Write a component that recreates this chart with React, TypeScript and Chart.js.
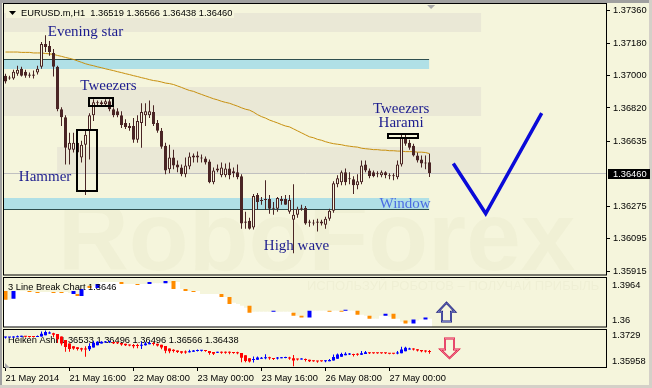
import React, { useEffect, useRef } from 'react';
import { Chart, registerables } from 'chart.js';

Chart.register(...registerables);

// ---------------- data ----------------
const candleOpen = [
  1.36999, 1.36988, 1.36983, 1.37010, 1.37037, 1.37021, 1.37005, 1.37005, 1.37016, 1.37048,
  1.37174, 1.37163, 1.37125, 1.37048, 1.36813, 1.36769, 1.36589, 1.36589, 1.36627, 1.36545,
  1.36616, 1.36698, 1.36780, 1.36846, 1.36840, 1.36840, 1.36857, 1.36813, 1.36802, 1.36780,
  1.36737, 1.36720, 1.36720, 1.36644, 1.36737, 1.36780, 1.36780, 1.36797, 1.36737, 1.36693,
  1.36611, 1.36480, 1.36545, 1.36507, 1.36490, 1.36452, 1.36496, 1.36545, 1.36556, 1.36545,
  1.36540, 1.36523, 1.36408, 1.36474, 1.36447, 1.36447, 1.36485, 1.36469, 1.36463, 1.36441,
  1.36184, 1.36195, 1.36157, 1.36337, 1.36310, 1.36310, 1.36315, 1.36266, 1.36261, 1.36315,
  1.36315, 1.36244, 1.36200, 1.36228, 1.36266, 1.36266, 1.36190, 1.36184, 1.36190, 1.36179,
  1.36173, 1.36206, 1.36250, 1.36397, 1.36408, 1.36463, 1.36425, 1.36425, 1.36392, 1.36408,
  1.36507, 1.36474, 1.36463, 1.36458, 1.36447, 1.36463, 1.36447, 1.36447, 1.36436, 1.36507,
  1.36655, 1.36627, 1.36611, 1.36556, 1.36534, 1.36518, 1.36519,
];
const candleHigh = [
  1.37010, 1.36999, 1.37032, 1.37054, 1.37048, 1.37032, 1.37016, 1.37027, 1.37054, 1.37185,
  1.37223, 1.37191, 1.37147, 1.37054, 1.36824, 1.36780, 1.36682, 1.36682, 1.36655, 1.36638,
  1.36693, 1.36791, 1.36868, 1.36862, 1.36862, 1.36868, 1.36868, 1.36824, 1.36819, 1.36802,
  1.36758, 1.36737, 1.36764, 1.36780, 1.36846, 1.36846, 1.36862, 1.36835, 1.36753, 1.36709,
  1.36627, 1.36616, 1.36589, 1.36529, 1.36507, 1.36545, 1.36573, 1.36567, 1.36578, 1.36562,
  1.36551, 1.36534, 1.36490, 1.36507, 1.36518, 1.36512, 1.36518, 1.36490, 1.36507, 1.36452,
  1.36244, 1.36211, 1.36343, 1.36348, 1.36326, 1.36419, 1.36337, 1.36299, 1.36326, 1.36332,
  1.36337, 1.36337, 1.36397, 1.36272, 1.36283, 1.36277, 1.36200, 1.36200, 1.36206, 1.36200,
  1.36217, 1.36261, 1.36414, 1.36447, 1.36474, 1.36485, 1.36463, 1.36441, 1.36452, 1.36529,
  1.36529, 1.36485, 1.36474, 1.36469, 1.36474, 1.36469, 1.36458, 1.36458, 1.36529, 1.36671,
  1.36671, 1.36644, 1.36622, 1.36573, 1.36556, 1.36556, 1.36566,
];
const candleLow = [
  1.36955, 1.36977, 1.36977, 1.36999, 1.36994, 1.36988, 1.36988, 1.36983, 1.37005, 1.37037,
  1.37130, 1.37109, 1.36994, 1.36802, 1.36720, 1.36507, 1.36507, 1.36573, 1.36545, 1.36518,
  1.36337, 1.36534, 1.36748, 1.36830, 1.36830, 1.36830, 1.36802, 1.36769, 1.36769, 1.36709,
  1.36704, 1.36693, 1.36627, 1.36627, 1.36600, 1.36720, 1.36764, 1.36720, 1.36682, 1.36594,
  1.36452, 1.36458, 1.36480, 1.36463, 1.36441, 1.36436, 1.36480, 1.36518, 1.36518, 1.36518,
  1.36507, 1.36403, 1.36397, 1.36463, 1.36436, 1.36436, 1.36425, 1.36436, 1.36425, 1.36151,
  1.36151, 1.36146, 1.36146, 1.36255, 1.36283, 1.36255, 1.36233, 1.36228, 1.36244, 1.36283,
  1.36283, 1.36233, 1.36015, 1.36211, 1.36250, 1.36173, 1.36162, 1.36168, 1.36135, 1.36168,
  1.36151, 1.36195, 1.36239, 1.36381, 1.36392, 1.36392, 1.36397, 1.36343, 1.36370, 1.36397,
  1.36463, 1.36430, 1.36436, 1.36436, 1.36436, 1.36430, 1.36425, 1.36419, 1.36425, 1.36496,
  1.36611, 1.36589, 1.36551, 1.36518, 1.36490, 1.36480, 1.36438,
];
const candleClose = [
  1.36966, 1.36983, 1.37021, 1.37032, 1.36999, 1.36999, 1.36999, 1.36999, 1.37037, 1.37174,
  1.37158, 1.37130, 1.37048, 1.36813, 1.36769, 1.36600, 1.36627, 1.36627, 1.36573, 1.36616,
  1.36671, 1.36780, 1.36851, 1.36851, 1.36851, 1.36857, 1.36813, 1.36780, 1.36780, 1.36726,
  1.36715, 1.36709, 1.36644, 1.36748, 1.36797, 1.36802, 1.36802, 1.36731, 1.36693, 1.36605,
  1.36474, 1.36545, 1.36501, 1.36490, 1.36452, 1.36501, 1.36551, 1.36556, 1.36545, 1.36540,
  1.36518, 1.36408, 1.36474, 1.36485, 1.36490, 1.36485, 1.36447, 1.36458, 1.36436, 1.36179,
  1.36190, 1.36151, 1.36332, 1.36299, 1.36304, 1.36315, 1.36261, 1.36261, 1.36321, 1.36304,
  1.36283, 1.36310, 1.36228, 1.36261, 1.36261, 1.36179, 1.36184, 1.36179, 1.36184, 1.36190,
  1.36206, 1.36250, 1.36403, 1.36430, 1.36463, 1.36408, 1.36430, 1.36392, 1.36414, 1.36501,
  1.36474, 1.36441, 1.36441, 1.36452, 1.36463, 1.36447, 1.36441, 1.36441, 1.36507, 1.36655,
  1.36622, 1.36600, 1.36556, 1.36529, 1.36512, 1.36512, 1.36460,
];
const maValues = [
  1.37130, 1.37130, 1.37130, 1.37130, 1.37128, 1.37128, 1.37128, 1.37125, 1.37125, 1.37125,
  1.37122, 1.37120, 1.37117, 1.37111, 1.37106, 1.37100, 1.37095, 1.37089, 1.37081, 1.37073,
  1.37065, 1.37059, 1.37054, 1.37048, 1.37043, 1.37037, 1.37032, 1.37027, 1.37021, 1.37016,
  1.37010, 1.37005, 1.36999, 1.36994, 1.36988, 1.36983, 1.36977, 1.36972, 1.36969, 1.36964,
  1.36958, 1.36955, 1.36950, 1.36942, 1.36934, 1.36925, 1.36917, 1.36912, 1.36903, 1.36895,
  1.36887, 1.36879, 1.36871, 1.36865, 1.36857, 1.36851, 1.36846, 1.36838, 1.36830, 1.36821,
  1.36813, 1.36808, 1.36797, 1.36783, 1.36772, 1.36764, 1.36753, 1.36745, 1.36737, 1.36728,
  1.36720, 1.36715, 1.36704, 1.36693, 1.36682, 1.36671, 1.36660, 1.36655, 1.36646, 1.36641,
  1.36633, 1.36627, 1.36622, 1.36619, 1.36616, 1.36611, 1.36608, 1.36605, 1.36603, 1.36597,
  1.36594, 1.36592, 1.36589, 1.36589, 1.36586, 1.36586, 1.36583, 1.36583, 1.36581, 1.36581,
  1.36578, 1.36578, 1.36578, 1.36575, 1.36575, 1.36573, 1.36567,
];
// 3 Line Break panel
const lineBreakLevels = [
  1.3797, 1.3797, 1.3804, 1.3862, 1.3862, 1.3862, 1.3862, 1.3855, 1.3855, 1.3855,
  1.3855, 1.3855, 1.3855, 1.3855, 1.3855, 1.3855, 1.3848, 1.3840, 1.3826, 1.3877,
  1.3884, 1.3891, 1.3898, 1.3913, 1.3928, 1.3928, 1.3928, 1.3928, 1.3928, 1.3928,
  1.3913, 1.3913, 1.3913, 1.3913, 1.3913, 1.3913, 1.3920, 1.3920, 1.3920, 1.3920,
  1.3920, 1.3920, 1.3920, 1.3928, 1.3877, 1.3862, 1.3862, 1.3862, 1.3862, 1.3840,
  1.3840, 1.3840, 1.3840, 1.3840, 1.3840, 1.3818, 1.3797, 1.3775, 1.3767, 1.3753,
  1.3738, 1.3724, 1.3709, 1.3709, 1.3709, 1.3709, 1.3709, 1.3709, 1.3709, 1.3709,
  1.3709, 1.3709, 1.3695, 1.3680, 1.3666, 1.3666, 1.3709, 1.3716, 1.3716, 1.3716,
  1.3716, 1.3716, 1.3716, 1.3716, 1.3716, 1.3716, 1.3716, 1.3716, 1.3695, 1.3687,
  1.3680, 1.3666, 1.3658, 1.3658, 1.3680, 1.3680, 1.3673, 1.3658, 1.3658, 1.3636,
  1.3622, 1.3629, 1.3636, 1.3644, 1.3651, 1.3658, 1.3658,
];
const brickIndex = [0, 2, 6, 8, 12, 14, 17, 18, 19, 21, 23, 29, 33, 36, 40, 42, 45, 47, 54, 56, 61, 67, 72, 74, 76, 81, 84, 85, 88, 91, 95, 97, 100, 102, 105];
const brickLow = [1.3797, 1.3804, 1.3855, 1.3848, 1.3848, 1.3848, 1.3840, 1.3826, 1.3826, 1.3884, 1.3884, 1.3913, 1.3906, 1.3913, 1.3920, 1.3877, 1.3862, 1.3855, 1.3818, 1.3767, 1.3702, 1.3709, 1.3680, 1.3666, 1.3666, 1.3709, 1.3709, 1.3716, 1.3687, 1.3658, 1.3680, 1.3658, 1.3622, 1.3622, 1.3651];
const brickHigh = [1.3862, 1.3862, 1.3862, 1.3855, 1.3855, 1.3855, 1.3862, 1.3840, 1.3877, 1.3898, 1.3913, 1.3928, 1.3913, 1.3928, 1.3935, 1.3935, 1.3877, 1.3862, 1.3840, 1.3818, 1.3753, 1.3716, 1.3702, 1.3680, 1.3716, 1.3716, 1.3716, 1.3724, 1.3716, 1.3680, 1.3695, 1.3695, 1.3644, 1.3651, 1.3666];
const brickUp = [false, true, false, false, false, false, true, false, true, false, true, false, false, true, true, false, false, false, false, false, false, true, false, false, true, false, false, true, false, false, true, false, false, true, true];

// hand-drawn check mark (bar index, price)
const checkIndex = [111.95, 120.05, 134.05];
const checkPrice = [1.36512, 1.36235, 1.36791];

const xTickIndex = [0, 16, 32, 48, 64, 80, 96];
const xTickLabels = ['21 May 2014', '21 May 16:00', '22 May 08:00', '23 May 00:00', '23 May 16:00', '26 May 08:00', '27 May 00:00'];
const yTickValues = [1.3736, 1.3718, 1.37, 1.3682, 1.36635, 1.36275, 1.36095, 1.35915];
const lastPrice = 1.3646;
const lbAxisLabels = ['1.3964', '1.36'];
const haAxisLabels = ['1.3729', '1.35958'];

// ---------------- style / layout ----------------
const BG = '#F5F5DC';
const SHADE = '#EAE8D6';
const CANDLE = '#4A2525';
const NAVY = '#1C1C8E';
const UI_FONT = '"Liberation Sans", Arial, sans-serif';
const NOTE_FONT = '15px "Liberation Serif", "Times New Roman", serif';

const X_MIN = -0.375;
const X_MAX = 150.375;
const MAIN_MIN = 1.358876;
const MAIN_MAX = 1.373709;
const LB_MIN = 1.359272;
const LB_MAX = 1.397128;
const HA_MIN = 1.35958;
const HA_MAX = 1.373233;

const shadeBands = [
  { from: X_MIN, to: 118.9, hi: 1.37349, lo: 1.3724 },
  { from: X_MIN, to: 118.9, hi: 1.36934, lo: 1.36775 },
  { from: 12.9, to: 118.9, hi: 1.36605, lo: 1.36452 },
];
const zones = [
  { from: X_MIN, to: 105.9, hi: 1.37087, lo: 1.37037, line: 1.37092 },
  { from: X_MIN, to: 105.9, hi: 1.36321, lo: 1.36261, line: 1.36258 },
];
const notes = [
  { text: 'Evening star', i: 20.0, p: 1.37218, color: NAVY },
  { text: 'Tweezers', i: 25.75, p: 1.36917, color: NAVY },
  { text: 'Hammer', i: 9.9, p: 1.36414, color: NAVY },
  { text: 'High wave', i: 72.75, p: 1.36031, color: NAVY },
  { text: 'Tweezers', i: 98.9, p: 1.36791, color: NAVY },
  { text: 'Harami', i: 98.9, p: 1.36712, color: NAVY },
  { text: 'Window', i: 99.9, p: 1.36266, color: '#4A6CE2' },
];
const boxes = [
  { from: 17.9, to: 22.9, hi: 1.36698, lo: 1.36359 },
  { from: 20.75, to: 26.9, hi: 1.36873, lo: 1.3683 },
  { from: 95.6, to: 103.1, hi: 1.36677, lo: 1.36655 },
];
const upSignal = { i: 110, top: 1.3775, bottom: 1.3637 };
const downSignal = { i: 110.85, top: 1.36957, bottom: 1.36291 };

const decoPlugin = {
  id: 'mt4deco',
  beforeDraw(chart: any) {
    const { ctx } = chart;
    const sx = chart.scales.x, sy = chart.scales.y, s3 = chart.scales.y3;
    ctx.save();
    ctx.fillStyle = BG;
    ctx.fillRect(0, 0, chart.width, chart.height);
    ctx.fillStyle = SHADE;
    for (const b of shadeBands) {
      const x0 = sx.getPixelForValue(b.from), x1 = sx.getPixelForValue(b.to);
      const y0 = sy.getPixelForValue(b.hi), y1 = sy.getPixelForValue(b.lo);
      ctx.fillRect(x0, Math.round(y0), x1 - x0, Math.round(y1) - Math.round(y0));
    }
    // watermark
    ctx.save();
    ctx.beginPath();
    ctx.rect(sx.left, sy.top, sx.right - sx.left, sy.bottom - sy.top);
    ctx.clip();
    ctx.font = 'bold 98px ' + UI_FONT;
    ctx.fillStyle = 'rgba(150,150,100,0.05)';
    ctx.textBaseline = 'alphabetic';
    ctx.fillText('RoboForex', 58, 270);
    ctx.restore();
    ctx.save();
    ctx.font = '13px ' + UI_FONT;
    ctx.fillStyle = 'rgba(150,150,100,0.06)';
    ctx.fillText('ИСПОЛЬЗУЙ РОБОТОВ – ПОЛУЧАЙ ПРИБЫЛЬ', 307, s3.top + 14);
    ctx.restore();
    ctx.restore();
  },
  beforeDatasetsDraw(chart: any) {
    const { ctx } = chart;
    const sx = chart.scales.x, sy = chart.scales.y, sh = chart.scales.yha;
    ctx.save();
    for (const z of zones) {
      const x0 = sx.getPixelForValue(z.from), x1 = sx.getPixelForValue(z.to);
      const y0 = Math.round(sy.getPixelForValue(z.hi)), y1 = Math.round(sy.getPixelForValue(z.lo));
      ctx.fillStyle = '#B0E0E6';
      ctx.fillRect(x0, y0, x1 - x0, y1 - y0);
      const ly = Math.round(sy.getPixelForValue(z.line)) + 0.5;
      ctx.strokeStyle = '#2F4F4F';
      ctx.lineWidth = 1;
      ctx.beginPath();
      ctx.moveTo(x0, ly);
      ctx.lineTo(x1, ly);
      ctx.stroke();
    }
    const py = Math.round(sy.getPixelForValue(lastPrice)) + 0.5;
    ctx.strokeStyle = '#C0C0C0';
    ctx.beginPath();
    ctx.moveTo(sx.left, py);
    ctx.lineTo(sx.right, py);
    ctx.stroke();
    // Heiken Ashi caption (its bars are drawn over it)
    ctx.fillStyle = '#000';
    ctx.font = '9.3px ' + UI_FONT;
    ctx.textBaseline = 'alphabetic';
    ctx.textAlign = 'left';
    ctx.fillText('Heiken Ashi 1.36533 1.36496 1.36496 1.36566 1.36438', 8, sh.top + 15);
    ctx.restore();
  },
  afterDatasetsDraw(chart: any) {
    const { ctx } = chart;
    const sx = chart.scales.x, sy = chart.scales.y, s3 = chart.scales.y3, sh = chart.scales.yha;
    ctx.save();
    // 3LB caption
    ctx.fillStyle = '#000';
    ctx.font = '9.3px ' + UI_FONT;
    ctx.textBaseline = 'alphabetic';
    ctx.textAlign = 'left';
    ctx.fillText('3 Line Break Chart 1.3646', 8, s3.top + 14);
    // boxes
    ctx.strokeStyle = '#000';
    ctx.lineWidth = 2;
    for (const b of boxes) {
      const x0 = Math.round(sx.getPixelForValue(b.from)), x1 = Math.round(sx.getPixelForValue(b.to));
      const y0 = Math.round(sy.getPixelForValue(b.hi)), y1 = Math.round(sy.getPixelForValue(b.lo));
      ctx.strokeRect(x0, y0, x1 - x0, y1 - y0);
    }
    // pattern notes
    ctx.font = NOTE_FONT;
    ctx.textAlign = 'center';
    ctx.textBaseline = 'alphabetic';
    for (const n of notes) {
      ctx.fillStyle = n.color;
      ctx.fillText(n.text, sx.getPixelForValue(n.i), sy.getPixelForValue(n.p));
    }
    // signal arrows
    const ux = Math.round(sx.getPixelForValue(upSignal.i)) + 0.5;
    const ut = s3.getPixelForValue(upSignal.top), ub = s3.getPixelForValue(upSignal.bottom);
    ctx.beginPath();
    ctx.moveTo(ux, ut);
    ctx.lineTo(ux + 8.5, ut + 9);
    ctx.lineTo(ux + 4.5, ut + 9);
    ctx.lineTo(ux + 4.5, ub);
    ctx.lineTo(ux - 4.5, ub);
    ctx.lineTo(ux - 4.5, ut + 9);
    ctx.lineTo(ux - 8.5, ut + 9);
    ctx.closePath();
    ctx.lineWidth = 2;
    ctx.strokeStyle = '#1A1A78';
    ctx.stroke();
    ctx.lineWidth = 0.8;
    ctx.strokeStyle = '#8C96D8';
    ctx.stroke();
    const dx = Math.round(sx.getPixelForValue(downSignal.i)) + 0.5;
    const dt = sh.getPixelForValue(downSignal.top), db = sh.getPixelForValue(downSignal.bottom);
    ctx.beginPath();
    ctx.moveTo(dx - 4.5, dt);
    ctx.lineTo(dx + 4.5, dt);
    ctx.lineTo(dx + 4.5, dt + 11);
    ctx.lineTo(dx + 9, dt + 11);
    ctx.lineTo(dx, db);
    ctx.lineTo(dx - 9, dt + 11);
    ctx.lineTo(dx - 4.5, dt + 11);
    ctx.closePath();
    ctx.lineWidth = 2;
    ctx.strokeStyle = '#E0103C';
    ctx.stroke();
    ctx.lineWidth = 0.8;
    ctx.strokeStyle = '#F4A0B4';
    ctx.stroke();
    ctx.restore();
  },
  afterDraw(chart: any) {
    const { ctx } = chart;
    const sx = chart.scales.x, sy = chart.scales.y, s3 = chart.scales.y3, sh = chart.scales.yha;
    const W = chart.width, H = chart.height;
    ctx.save();
    // window edges
    ctx.fillStyle = '#A0A0A0';
    ctx.fillRect(0, 0, W, 3);
    ctx.fillRect(0, 0, 2, H);
    ctx.fillStyle = '#D4D0C8';
    ctx.fillRect(0, H - 3, W, 3);
    ctx.fillRect(W - 3, 0, 3, H);
    // panel frames
    ctx.strokeStyle = '#000';
    ctx.lineWidth = 1;
    const L = 3.5, R = Math.round(sx.right) - 0.5;
    ctx.strokeRect(L, 3.5, R - L, Math.round(sy.bottom) - 1 - 3.5);
    ctx.strokeRect(L, Math.round(s3.top) + 1.5, R - L, Math.round(s3.bottom) - 1 - (Math.round(s3.top) + 1.5));
    ctx.strokeRect(L, Math.round(sh.top) + 1.5, R - L, Math.round(sh.bottom) - 0.5 - (Math.round(sh.top) + 1.5));
    // header
    ctx.fillStyle = BG;
    ctx.fillRect(6, 8, 228, 10);
    ctx.fillStyle = '#000';
    ctx.beginPath();
    ctx.moveTo(9, 11);
    ctx.lineTo(16, 11);
    ctx.lineTo(12.5, 15);
    ctx.closePath();
    ctx.fill();
    ctx.font = '9.3px ' + UI_FONT;
    ctx.textAlign = 'left';
    ctx.textBaseline = 'alphabetic';
    ctx.fillText('EURUSD.m,H1  1.36519 1.36566 1.36438 1.36460', 21, 16);
    // shift marker & corner marker
    ctx.fillStyle = '#A8A8A8';
    const mx = sx.getPixelForValue(106.4);
    ctx.beginPath();
    ctx.moveTo(mx - 4, 5);
    ctx.lineTo(mx + 4, 5);
    ctx.lineTo(mx, 9);
    ctx.closePath();
    ctx.fill();
    ctx.beginPath();
    ctx.moveTo(sx.left + 1, sh.bottom - 5);
    ctx.lineTo(sx.left + 1, sh.bottom);
    ctx.lineTo(sx.left + 6, sh.bottom);
    ctx.closePath();
    ctx.fill();
    // sub-window axis labels (max at top, min at bottom)
    ctx.fillStyle = '#000';
    ctx.textBaseline = 'middle';
    ctx.fillText(lbAxisLabels[0], 612, s3.top + 9);
    ctx.fillText(lbAxisLabels[1], 612, s3.bottom - 7);
    ctx.fillText(haAxisLabels[0], 612, sh.top + 8);
    ctx.fillText(haAxisLabels[1], 612, sh.bottom - 7);
    // current price label
    const py = Math.round(sy.getPixelForValue(lastPrice));
    ctx.fillStyle = '#000';
    ctx.fillRect(608, py - 4, 42, 10);
    ctx.fillStyle = '#FFF';
    ctx.fillText(lastPrice.toFixed(5), 613, py + 1);
    ctx.restore();
  },
};

export default function App() {
  const ref = useRef<HTMLCanvasElement>(null);
  useEffect(() => {
    document.body.style.margin = '0';
    const canvas = ref.current as HTMLCanvasElement;
    const n = candleOpen.length;
    const idx = candleOpen.map((_, i) => i);

    // Heiken Ashi from the candles
    const haOpen: number[] = [], haClose: number[] = [], haHigh: number[] = [], haLow: number[] = [];
    for (let i = 0; i < n; i++) {
      const c = (candleOpen[i] + candleHigh[i] + candleLow[i] + candleClose[i]) / 4;
      const o = i === 0 ? (candleOpen[0] + candleClose[0]) / 2 : (haOpen[i - 1] + haClose[i - 1]) / 2;
      haOpen.push(o);
      haClose.push(c);
      haHigh.push(Math.max(candleHigh[i], o, c));
      haLow.push(Math.min(candleLow[i], o, c));
    }
    const haColor = idx.map((i) => (haClose[i] >= haOpen[i] ? '#0000FF' : '#FF0000'));

    const sideAxis = (weight: number, min: number, max: number, extra: any = {}) => ({
      type: 'linear',
      position: 'right',
      stack: 'panes',
      stackWeight: weight,
      min,
      max,
      beginAtZero: false,
      border: { display: false },
      grid: { display: false },
      ticks: { display: false },
      afterFit: (s: any) => { s.width = 45; },
      ...extra,
    });

    const chart = new Chart(canvas, {
      type: 'bar',
      data: {
        datasets: [
          {
            type: 'line',
            label: 'check',
            data: checkIndex.map((v, k) => ({ x: v, y: checkPrice[k] })),
            yAxisID: 'y',
            borderColor: '#0A0AD8',
            borderWidth: 3.5,
            pointRadius: 0,
            borderJoinStyle: 'miter',
            order: 0,
          },
          {
            label: 'body',
            data: idx.map((i) => ({ x: i, y: [candleOpen[i], candleClose[i]] })),
            yAxisID: 'y',
            backgroundColor: idx.map((i) => (candleClose[i] > candleOpen[i] ? BG : CANDLE)),
            borderColor: CANDLE,
            borderWidth: 1,
            borderSkipped: false,
            inflateAmount: 0,
            barThickness: 3,
            minBarLength: 1,
            grouped: false,
            order: 1,
          },
          {
            label: 'wick',
            data: idx.map((i) => ({ x: i, y: [candleLow[i], candleHigh[i]] })),
            yAxisID: 'y',
            backgroundColor: CANDLE,
            inflateAmount: 0,
            barThickness: 1,
            grouped: false,
            order: 2,
          },
          {
            type: 'line',
            label: 'ma',
            data: maValues.map((v, i) => ({ x: i, y: v })),
            yAxisID: 'y',
            borderColor: '#C8900F',
            borderWidth: 1,
            pointRadius: 0,
            order: 3,
          },
          {
            label: 'bricks',
            data: brickIndex.map((b, k) => ({ x: b, y: [brickLow[k], brickHigh[k]] })),
            yAxisID: 'y3',
            backgroundColor: brickUp.map((u) => (u ? '#0000FF' : '#FF8C00')),
            inflateAmount: 0,
            barThickness: 4,
            minBarLength: 1,
            grouped: false,
            order: 4,
          },
          {
            label: 'lb',
            data: idx.map((i) => ({ x: i, y: [LB_MIN, lineBreakLevels[i]] })),
            yAxisID: 'y3',
            backgroundColor: '#FFFFFF',
            inflateAmount: 0,
            barThickness: 5,
            grouped: false,
            order: 5,
          },
          {
            label: 'haBody',
            data: idx.map((i) => ({ x: i, y: [haOpen[i], haClose[i]] })),
            yAxisID: 'yha',
            backgroundColor: haColor,
            inflateAmount: 0,
            barThickness: 3,
            minBarLength: 1,
            grouped: false,
            order: 6,
          },
          {
            label: 'haWick',
            data: idx.map((i) => ({ x: i, y: [haLow[i], haHigh[i]] })),
            yAxisID: 'yha',
            backgroundColor: haColor,
            inflateAmount: 0,
            barThickness: 1,
            grouped: false,
            order: 7,
          },
        ] as any,
      },
      options: {
        responsive: false,
        maintainAspectRatio: false,
        animation: false,
        devicePixelRatio: 1,
        events: [],
        layout: { padding: { top: 4, left: 4, right: 0, bottom: 0 } },
        plugins: { legend: { display: false }, tooltip: { enabled: false } },
        scales: {
          x: {
            type: 'linear',
            position: 'bottom',
            min: X_MIN,
            max: X_MAX,
            offset: false,
            border: { display: false },
            grid: { display: true, drawOnChartArea: false, drawTicks: true, tickLength: 3, color: '#000', offset: false },
            ticks: {
              autoSkip: false,
              maxRotation: 0,
              minRotation: 0,
              align: 'start',
              padding: 2,
              color: '#000',
              font: { family: UI_FONT, size: 9.3 },
              callback: (v: any) => {
                const k = xTickIndex.indexOf(Number(v));
                return k >= 0 ? xTickLabels[k] : '';
              },
            },
            afterBuildTicks: (s: any) => { s.ticks = xTickIndex.map((v) => ({ value: v })); },
            afterFit: (s: any) => { s.height = 20; },
          },
          y: sideAxis(271, MAIN_MIN, MAIN_MAX, {
            grid: { display: true, drawOnChartArea: false, drawTicks: true, tickLength: 3, color: '#000' },
            ticks: {
              display: true,
              padding: 3,
              color: '#000',
              font: { family: UI_FONT, size: 9.3 },
              callback: (v: any) => Number(v).toFixed(5),
            },
            afterBuildTicks: (s: any) => { s.ticks = yTickValues.map((v) => ({ value: v })); },
          }),
          y3: sideAxis(52, LB_MIN, LB_MAX),
          yha: sideAxis(41, HA_MIN, HA_MAX),
        } as any,
      },
      plugins: [decoPlugin],
    } as any);
    return () => chart.destroy();
  }, []);
  return (
    <div style={{ position: 'fixed', left: 0, top: 0, width: 652, height: 388 }}>
      <canvas ref={ref} width={652} height={388} style={{ display: 'block', width: 652, height: 388 }} />
    </div>
  );
}
